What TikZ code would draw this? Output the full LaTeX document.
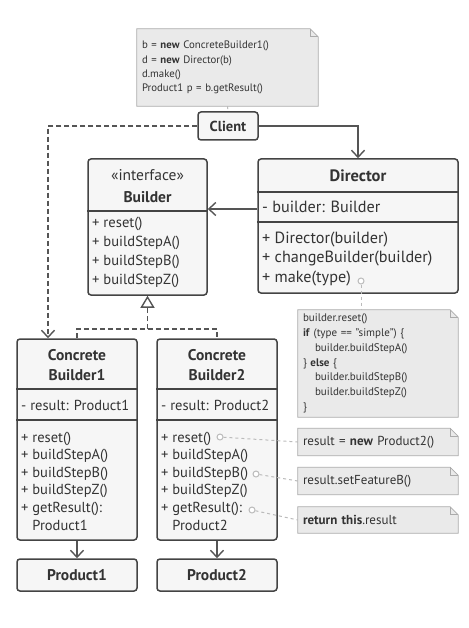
\documentclass[tikz,border=0pt]{standalone}
\usepackage{fontspec}
\setmainfont{PT Sans}
\usetikzlibrary{arrows.meta, positioning, calc, backgrounds}

\definecolor{boxline}{HTML}{444444}
\definecolor{boxfill}{HTML}{F6F6F6}
\definecolor{ink}{HTML}{333333}
\definecolor{wirecol}{HTML}{555555}
\definecolor{notefill}{HTML}{EAEAEA}
\definecolor{notecol}{HTML}{ABABAB}
\definecolor{hintcol}{HTML}{BBBBBB}

\newcommand{\notefont}{\fontsize{10.8}{14.3}\selectfont}
\newcommand{\opsfont}{\fontsize{14.6}{19}\selectfont}
\newcommand{\dirfont}{\fontsize{16.2}{19.5}\selectfont}
\newcommand{\cbfont}{\fontsize{14.5}{17.6}\selectfont}
\newcommand{\headfont}{\bfseries\fontsize{15.5}{20}\selectfont}

\begin{document}
\begin{tikzpicture}[x=1pt, y=-1pt,
    uml/.style={draw=boxline, fill=boxfill, line width=1.5pt, rounded corners=3pt, inner sep=0pt},
    sep/.style={draw=boxline, line width=1.3pt},
    note/.style={draw=none, fill=none, text=ink, align=left, inner xsep=5pt, font=\notefont},
    txt/.style={inner sep=0pt, anchor=west, align=left, text=ink},
    wire/.style={draw=wirecol, line width=1.4pt},
    dashes/.style={dash pattern=on 5pt off 3pt},
    tip/.style={-{Straight Barb[length=7pt, width=13pt]}},
    hint/.style={draw=hintcol, line width=1pt, dash pattern=on 3pt off 3pt},
    dot/.style={circle, draw=hintcol, fill=white, line width=1pt, minimum size=6pt, inner sep=0pt}]
    \useasboundingbox (0,0) rectangle (468,628);

    % usage note and client
    \node [note, text width=171pt, minimum height=77pt] (usage) at (227.5,67.5)
      {b = \textbf{new} ConcreteBuilder1()\\ d = \textbf{new} Director(b)\\ d.make()\\ Product1 p = b.getResult()};
    \node [uml, minimum width=60pt, minimum height=28pt, text=ink, font=\bfseries\fontsize{14.5}{16}\selectfont] (client) at (228,126) {Client};

    % builder interface
    \node [uml, minimum width=119pt, minimum height=136pt] (builder) at (147.5,227) {};
    \draw [sep] (builder.west |- 0,211) -- (builder.east |- 0,211);
    \node [txt, anchor=center, align=center, font=\fontsize{15.5}{22}\selectfont] (builderhead) at (147.5,186)
      {«interface»\\ \textbf{Builder}};
    \node [txt, font=\opsfont] (builderops) at (92,252.5)
      {+ reset()\\ + buildStepA()\\ + buildStepB()\\ + buildStepZ()};

    % director
    \node [uml, minimum width=200pt, minimum height=134pt] (director) at (358,226) {};
    \draw [sep] (director.west |- 0,192) -- (director.east |- 0,192);
    \draw [sep] (director.west |- 0,222) -- (director.east |- 0,222);
    \node [txt, anchor=center, font=\bfseries\fontsize{16.5}{20}\selectfont] (directorhead) at (358,176) {Director};
    \node [txt, font=\dirfont] (directorfield) at (262,207) {- builder: Builder};
    \node [txt, font=\dirfont] (directorops) at (262,259)
      {+ Director(builder)\\ + changeBuilder(builder)\\ + make(type)};

    % concrete builders
    \node [uml, minimum width=120pt, minimum height=201pt] (cb1) at (77,439.5) {};
    \node [uml, minimum width=120pt, minimum height=201pt] (cb2) at (217,439.5) {};
    \foreach \b in {cb1,cb2} {
      \draw [sep] (\b.west |- 0,389) -- (\b.east |- 0,389);
      \draw [sep] (\b.west |- 0,420) -- (\b.east |- 0,420);
    }
    \node [txt, anchor=center, align=center, font=\headfont] (cb1head) at (77,365) {Concrete\\ Builder1};
    \node [txt, anchor=center, align=center, font=\headfont] (cb2head) at (217,365) {Concrete\\ Builder2};
    \node [txt, font=\cbfont] (cb1field) at (21,405) {- result: Product1};
    \node [txt, font=\cbfont] (cb2field) at (161,405) {- result: Product2};
    \node [txt, font=\cbfont] (cb1ops) at (21,481)
      {+ reset()\\ + buildStepA()\\ + buildStepB()\\ + buildStepZ()\\ + getResult():\\ \phantom{+ }Product1};
    \node [txt, font=\cbfont] (cb2ops) at (161,481)
      {+ reset()\\ + buildStepA()\\ + buildStepB()\\ + buildStepZ()\\ + getResult():\\ \phantom{+ }Product2};

    % products
    \node [uml, minimum width=120pt, minimum height=32pt, text=ink, font=\headfont] (product1) at (77,575) {Product1};
    \node [uml, minimum width=120pt, minimum height=32pt, text=ink, font=\headfont] (product2) at (217,575) {Product2};

    % notes on the right
    \node [note, text width=150pt, minimum height=107pt, font=\fontsize{11}{14.8}\selectfont] (makenote) at (378,363.5)
      {builder.reset()\\ \textbf{if} (type == "simple") \{\\ \hspace*{12pt}builder.buildStepA()\\ \} \textbf{else} \{\\
       \hspace*{12pt}builder.buildStepB()\\ \hspace*{12pt}builder.buildStepZ()\\ \}};
    \node [note, text width=150pt, minimum height=27pt, font=\fontsize{13}{15}\selectfont] (resetnote) at (378,442) {result = \textbf{new} Product2()};
    \node [note, text width=150pt, minimum height=27pt, font=\fontsize{13}{15}\selectfont] (featnote) at (378,481) {result.setFeatureB()};
    \node [note, text width=150pt, minimum height=26pt, font=\fontsize{13}{15}\selectfont] (resultnote) at (378,520) {\textbf{return this}.result};

    \begin{scope}[on background layer]
      \foreach \n in {usage,makenote,resetnote,featnote,resultnote} {
        \draw [draw=notecol, fill=notefill, line width=0.8pt] (\n.south west) -- (\n.north west)
          -- ([xshift=-8pt]\n.north east) -- ([yshift=-8pt]\n.north east) -- (\n.south east) -- cycle;
        \draw [draw=notecol, line width=0.8pt] ([xshift=-8pt]\n.north east)
          -- ([xshift=-8pt, yshift=-8pt]\n.north east) -- ([yshift=-8pt]\n.north east);
      }
    \end{scope}

    % connectors
    \draw [wire, dashes, tip] (client.west) -| ([xshift=-29pt]cb1.north);
    \draw [wire, tip] (client.east) -| (director.north);
    \draw [wire, tip] (director.west |- 0,209) -- (builder.east |- 0,209);
    \coordinate (split) at (147.5,329);
    \draw [wire, dashes] (cb1.north) |- (split) -| (cb2.north);
    \draw [wire, dashes, -{Triangle[open, length=12pt, width=14pt]}] (split) -- (builder.south);
    \draw [wire, tip] (cb1.south) -- (product1.north);
    \draw [wire, tip] (cb2.south) -- (product2.north);

    % hints from methods to notes
    \draw [hint] (usage.south) -- (client.north);
    \node [dot] (makedot) at (361,281) {};
    \node [dot] (resetdot) at (220,437) {};
    \node [dot] (stepbdot) at (256,474) {};
    \node [dot] (resultdot) at (252,510) {};
    \draw [hint] (makedot) -- (makedot |- makenote.north);
    \draw [hint] (resetdot) -- (resetnote.west);
    \draw [hint] (stepbdot) -- (featnote.west);
    \draw [hint] (resultdot) -- (resultnote.west);
\end{tikzpicture}
\end{document}
